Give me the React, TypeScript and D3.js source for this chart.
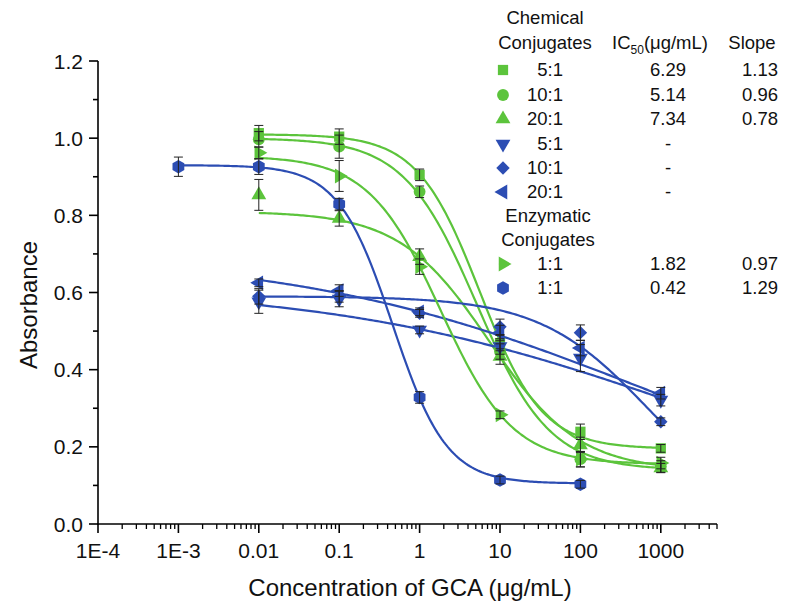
import React from "react";
import * as d3 from "d3";

// ---------- data ----------
const xTickValues = [1e-4, 1e-3, 0.01, 0.1, 1, 10, 100, 1000];
const xTickLabels = ["1E-4", "1E-3", "0.01", "0.1", "1", "10", "100", "1000"];
const yTickValues = [0, 0.2, 0.4, 0.6, 0.8, 1.0, 1.2];
const yTickLabels = ["0.0", "0.2", "0.4", "0.6", "0.8", "1.0", "1.2"];
const yMinorValues = [0.1, 0.3, 0.5, 0.7, 0.9, 1.1];

const conc = [0.01, 0.1, 1, 10, 100, 1000];
const concEnzBlue = [0.001, 0.01, 0.1, 1, 10, 100];

// absorbance means
const chem51Green = [1.013, 1.004, 0.905, 0.469, 0.239, 0.196];
const chem101Green = [0.997, 0.978, 0.861, 0.447, 0.168, 0.149];
const chem201Green = [0.853, 0.792, 0.693, 0.434, 0.205, 0.145];
const chem51Blue = [0.576, 0.583, 0.503, 0.46, 0.43, 0.321];
const chem101Blue = [0.59, 0.59, 0.546, 0.511, 0.496, 0.265];
const chem201Blue = [0.625, 0.605, 0.55, 0.495, 0.456, 0.339];
const enz11Green = [0.962, 0.902, 0.667, 0.283, 0.168, 0.158];
const enz11Blue = [0.926, 0.926, 0.829, 0.328, 0.114, 0.103];

// error bars (SD)
const chem51GreenErr = [0.02, 0.02, 0.015, 0.02, 0.02, 0.01];
const chem101GreenErr = [0.02, 0.03, 0.015, 0.02, 0.02, 0.015];
const chem201GreenErr = [0.04, 0.02, 0.02, 0.02, 0.02, 0.012];
const chem51BlueErr = [0.03, 0.02, 0.01, 0.02, 0.035, 0.015];
const chem101BlueErr = [0.02, 0.015, 0.01, 0.02, 0.02, 0.01];
const chem201BlueErr = [0.01, 0.015, 0.01, 0.02, 0.02, 0.015];
const enz11GreenErr = [0.015, 0.04, 0.02, 0.01, 0.02, 0.015];
const enz11BlueErr = [0.025, 0.02, 0.015, 0.015, 0.01, 0.01];

// four-parameter logistic fits: [top, bottom, IC50, slope]
const fit51Green = [1.01, 0.195, 5.6, 1.12];
const fit101Green = [1.0, 0.14, 5.14, 0.96];
const fit201Green = [0.81, 0.138, 7.34, 0.78];
const fit51Blue = [0.618, 0, 1786, 0.2];
const fit101Blue = [0.59, 0, 726, 0.637];
const fit201Blue = [0.7025, 0, 613, 0.2];
const fit11Green = [0.954, 0.155, 1.82, 0.97];
const fit11Blue = [0.93, 0.105, 0.46, 1.29];

// legend table
const legendLabels = ["5:1", "10:1", "20:1", "5:1", "10:1", "20:1", "1:1", "1:1"];
const ic50Labels = ["6.29", "5.14", "7.34", "-", "-", "-", "1.82", "0.42"];
const slopeLabels = ["1.13", "0.96", "0.78", "", "", "", "0.97", "1.29"];

// ---------- styling ----------
const GREEN = "#5CC43C";
const BLUE = "#2C4DB3";
const FONT = "'Liberation Sans', Arial, sans-serif";

const W = 785;
const H = 610;
const x = d3.scaleLog().domain([1e-4, 5000]).range([98, 717]);
const y = d3.scaleLinear().domain([0, 1.2]).range([524, 61]);

type Shape = "square" | "circle" | "triUp" | "triDown" | "triLeft" | "triRight" | "diamond" | "hexagon";

const series = [
  { name: "c51g", xs: conc, ys: chem51Green, err: chem51GreenErr, fit: fit51Green, color: GREEN, shape: "square" as Shape },
  { name: "c101g", xs: conc, ys: chem101Green, err: chem101GreenErr, fit: fit101Green, color: GREEN, shape: "circle" as Shape },
  { name: "c201g", xs: conc, ys: chem201Green, err: chem201GreenErr, fit: fit201Green, color: GREEN, shape: "triUp" as Shape },
  { name: "c51b", xs: conc, ys: chem51Blue, err: chem51BlueErr, fit: fit51Blue, color: BLUE, shape: "triDown" as Shape },
  { name: "c101b", xs: conc, ys: chem101Blue, err: chem101BlueErr, fit: fit101Blue, color: BLUE, shape: "diamond" as Shape },
  { name: "c201b", xs: conc, ys: chem201Blue, err: chem201BlueErr, fit: fit201Blue, color: BLUE, shape: "triLeft" as Shape },
  { name: "e11g", xs: conc, ys: enz11Green, err: enz11GreenErr, fit: fit11Green, color: GREEN, shape: "triRight" as Shape },
  { name: "e11b", xs: concEnzBlue, ys: enz11Blue, err: enz11BlueErr, fit: fit11Blue, color: BLUE, shape: "hexagon" as Shape },
];

const hexPath = (r: number) => {
  const pts: [number, number][] = d3.range(6).map((i) => {
    const a = (Math.PI / 3) * i - Math.PI / 2;
    return [r * Math.cos(a), r * Math.sin(a)];
  });
  return (d3.line()(pts) as string) + "Z";
};

function Marker({ shape, cx, cy, color }: { shape: Shape; cx: number; cy: number; color: string }) {
  let d = "";
  let rot = 0;
  switch (shape) {
    case "square":
      d = d3.symbol(d3.symbolSquare, 105)() as string;
      break;
    case "circle":
      d = d3.symbol(d3.symbolCircle, 110)() as string;
      break;
    case "triUp":
      d = d3.symbol(d3.symbolTriangle, 95)() as string;
      break;
    case "triDown":
      d = d3.symbol(d3.symbolTriangle, 95)() as string;
      rot = 180;
      break;
    case "triLeft":
      d = d3.symbol(d3.symbolTriangle, 95)() as string;
      rot = -90;
      break;
    case "triRight":
      d = d3.symbol(d3.symbolTriangle, 95)() as string;
      rot = 90;
      break;
    case "diamond":
      d = d3.symbol(d3.symbolSquare, 90)() as string;
      rot = 45;
      break;
    case "hexagon":
      d = hexPath(6.8);
      break;
  }
  return <path d={d} transform={`translate(${cx},${cy}) rotate(${rot})`} fill={color} stroke="none" />;
}

const logistic = (p: number[], c: number) => p[1] + (p[0] - p[1]) / (1 + Math.pow(c / p[2], p[3]));

export default function App() {
  const xMinor = x.ticks().filter((t) => !xTickValues.some((v) => Math.abs(Math.log10(v) - Math.log10(t)) < 1e-6));
  const line = d3
    .line<[number, number]>()
    .x((d) => x(d[0]))
    .y((d) => y(d[1]));

  const curves = series.map((s) => {
    const lo = Math.log10(d3.min(s.xs) as number);
    const hi = Math.log10(d3.max(s.xs) as number);
    const pts: [number, number][] = d3.range(0, 201).map((i) => {
      const c = Math.pow(10, lo + ((hi - lo) * i) / 200);
      return [c, logistic(s.fit, c)];
    });
    return { s, d: line(pts) as string };
  });

  const legendRowY = [70, 95, 119, 144, 168, 192, 264, 288];
  const legendShapes: Shape[] = ["square", "circle", "triUp", "triDown", "diamond", "triLeft", "triRight", "hexagon"];
  const legendColors = [GREEN, GREEN, GREEN, BLUE, BLUE, BLUE, GREEN, BLUE];

  return (
    <svg width={W} height={H} style={{ position: "absolute", left: 0, top: 0, background: "#fff" }} fontFamily={FONT}>
      <rect width={W} height={H} fill="#fff" />
      {/* axes */}
      <g stroke="#000" strokeWidth={1.6} fill="none">
        <line x1={x.range()[0]} x2={x.range()[0]} y1={y(0) + 0.8} y2={y(1.2)} />
        <line x1={x.range()[0] - 0.8} x2={x.range()[1]} y1={y(0)} y2={y(0)} />
        {yTickValues.map((v) => (
          <line key={"ym" + v} x1={x.range()[0] - 9} x2={x.range()[0]} y1={y(v)} y2={y(v)} />
        ))}
        {yMinorValues.map((v) => (
          <line key={"yn" + v} x1={x.range()[0] - 5} x2={x.range()[0]} y1={y(v)} y2={y(v)} />
        ))}
        {xTickValues.map((v) => (
          <line key={"xm" + v} x1={x(v)} x2={x(v)} y1={y(0)} y2={y(0) + 9} />
        ))}
        {xMinor.map((v) => (
          <line key={"xn" + v} x1={x(v)} x2={x(v)} y1={y(0)} y2={y(0) + 5} strokeWidth={1.3} />
        ))}
      </g>
      {yTickValues.map((v, i) => (
        <text key={"yl" + v} x={x.range()[0] - 15} y={y(v)} dy="0.36em" textAnchor="end" fontSize={21} fill="#111">
          {yTickLabels[i]}
        </text>
      ))}
      {xTickValues.map((v, i) => (
        <text key={"xl" + v} x={x(v)} y={558} textAnchor="middle" fontSize={21} fill="#111">
          {xTickLabels[i]}
        </text>
      ))}
      <text x={410} y={596} textAnchor="middle" fontSize={24} fill="#111">
        Concentration of GCA (μg/mL)
      </text>
      <text transform="translate(37,305) rotate(-90)" textAnchor="middle" fontSize={24} fill="#111">
        Absorbance
      </text>

      {/* curves */}
      {curves.map(({ s, d }) => (
        <path key={"c" + s.name} d={d} fill="none" stroke={s.color} strokeWidth={2.2} />
      ))}
      {/* markers */}
      {series.map((s) =>
        s.xs.map((c, i) => <Marker key={s.name + "m" + i} shape={s.shape} cx={x(c)} cy={y(s.ys[i])} color={s.color} />)
      )}
      {/* error bars */}
      <g stroke="#222" strokeWidth={1}>
        {series.map((s) =>
          s.xs.map((c, i) => {
            const cx = x(c);
            const y1 = y(s.ys[i] - s.err[i]);
            const y2 = y(s.ys[i] + s.err[i]);
            return (
              <g key={s.name + "e" + i}>
                <line x1={cx} x2={cx} y1={y1} y2={y2} />
                <line x1={cx - 4.5} x2={cx + 4.5} y1={y1} y2={y1} />
                <line x1={cx - 4.5} x2={cx + 4.5} y1={y2} y2={y2} />
              </g>
            );
          })
        )}
      </g>

      {/* legend */}
      <g fontSize={18.5} fill="#111">
        <text x={545} y={18} dy="0.35em" textAnchor="middle">Chemical</text>
        <text x={545} y={43} dy="0.35em" textAnchor="middle">Conjugates</text>
        <text x={660} y={43} dy="0.35em" textAnchor="middle">
          IC<tspan fontSize={12} dy="0.35em">50</tspan>
          <tspan dy="-0.25em">(μg/mL)</tspan>
        </text>
        <text x={752} y={43} dy="0.35em" textAnchor="middle">Slope</text>
        <text x={548} y={216} dy="0.35em" textAnchor="middle">Enzymatic</text>
        <text x={548} y={240} dy="0.35em" textAnchor="middle">Conjugates</text>
        {legendLabels.map((lab, i) => (
          <g key={"lg" + i}>
            <Marker shape={legendShapes[i]} cx={503} cy={legendRowY[i]} color={legendColors[i]} />
            <text x={563} y={legendRowY[i]} dy="0.35em" textAnchor="end">{lab}</text>
            <text x={668} y={legendRowY[i]} dy="0.35em" textAnchor="middle">{ic50Labels[i]}</text>
            <text x={778} y={legendRowY[i]} dy="0.35em" textAnchor="end">{slopeLabels[i]}</text>
          </g>
        ))}
      </g>
    </svg>
  );
}
